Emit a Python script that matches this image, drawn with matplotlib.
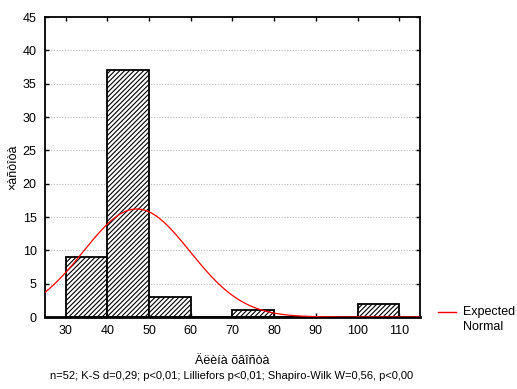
import numpy as np
import matplotlib
matplotlib.use("Agg")
import matplotlib.pyplot as plt
from matplotlib.lines import Line2D

plt.rcParams['font.family'] = ['Liberation Sans', 'DejaVu Sans']
plt.rcParams['hatch.linewidth'] = 0.8

bin_edges = [30, 40, 50, 60, 70, 80, 90, 100, 110]
counts = [9, 37, 3, 0, 1, 0, 0, 2]
n_obs = 52
norm_mean = 47.0
norm_sd = 12.8
x_ticks = [30, 40, 50, 60, 70, 80, 90, 100, 110]
y_ticks = [0, 5, 10, 15, 20, 25, 30, 35, 40, 45]
xlabel = "Äëèíà õâîñòà"
ylabel = "×àñòîòà"
footer = "n=52; K-S d=0,29; p<0,01; Lilliefors p<0,01; Shapiro-Wilk W=0,56, p<0,00"
legend_lines = ["Expected", "Normal"]

W, H = 517, 389
fig = plt.figure(figsize=(W / 100, H / 100), dpi=100)
ax = fig.add_axes([45 / W, 1 - 317 / H, (420 - 45) / W, (317 - 17) / H])

edges = np.array(bin_edges, dtype=float)
widths = np.diff(edges)
ax.bar(edges[:-1], counts, width=widths, align='edge', facecolor='white',
       edgecolor='black', linewidth=1.3, hatch='///////', zorder=2)

xs = np.linspace(25, 115, 400)
bw = widths[0]
ys = n_obs * bw / (np.sqrt(2 * np.pi) * norm_sd) * np.exp(-0.5 * ((xs - norm_mean) / norm_sd) ** 2)
ax.plot(xs, ys, color='red', linewidth=0.9, zorder=3)

ax.set_xlim(25, 115)
ax.set_ylim(0, 45)
ax.set_xticks(x_ticks)
ax.set_yticks(y_ticks)
ax.tick_params(direction='in', top=True, right=True, length=3, width=1,
               labelsize=9, pad=6)
for yv in y_ticks[1:-1]:
    ax.axhline(yv, color='#bbbbbb', linestyle=(0, (1, 1.5)), linewidth=0.8, zorder=1)
for s in ax.spines.values():
    s.set_linewidth(1.3)
ax.spines['bottom'].set_linewidth(2)

ax.set_xlabel(xlabel, fontsize=9)
ax.xaxis.set_label_coords(0.5, -(355 - 317) / 300, transform=ax.transAxes)
ax.set_ylabel(ylabel, fontsize=9)
ax.yaxis.set_label_coords(-(45 - 19) / 375, 0.5, transform=ax.transAxes)

fig.text(232 / W, 1 - 376 / H, footer, fontsize=8, ha='center', va='center')

fig.add_artist(Line2D([438 / W, 456 / W], [1 - 312 / H, 1 - 312 / H],
                      color='red', linewidth=1, transform=fig.transFigure))
fig.text(463 / W, 1 - 312 / H, legend_lines[0], fontsize=9, ha='left', va='center')
fig.text(463 / W, 1 - 327 / H, legend_lines[1], fontsize=9, ha='left', va='center')

fig.savefig("out.png", dpi=100)
